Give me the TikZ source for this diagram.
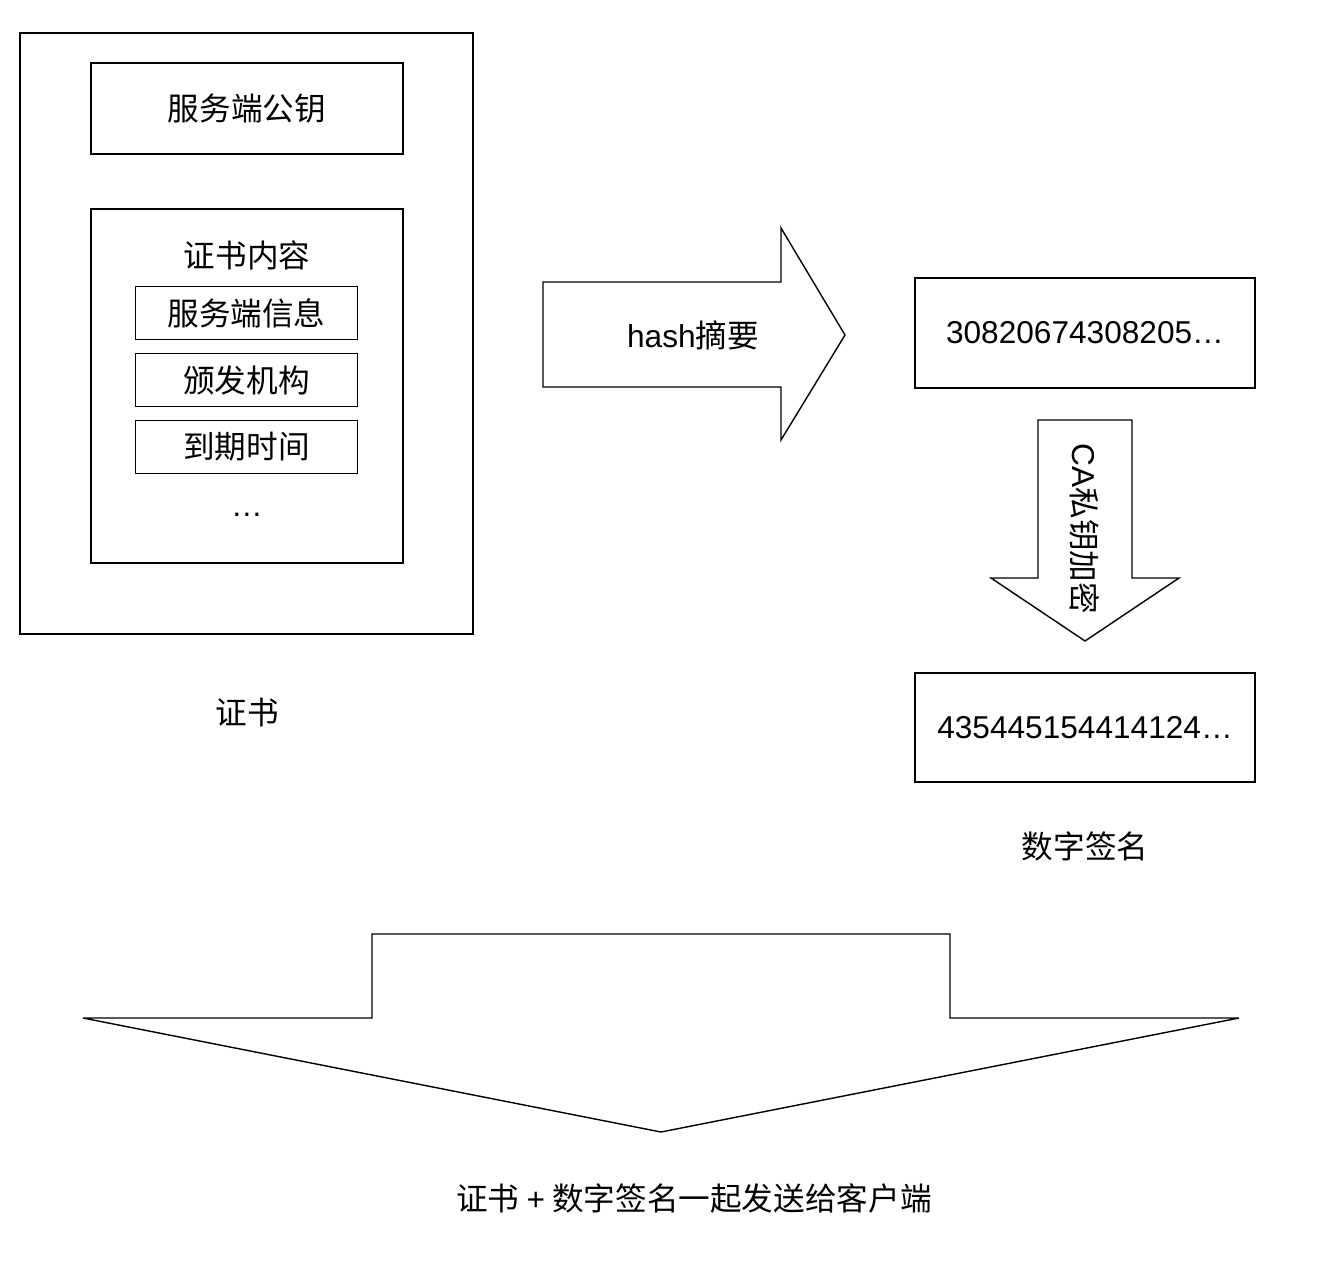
\documentclass[tikz,border=0pt]{standalone}
\usepackage{fontspec}
\setmainfont{Liberation Sans}
\newfontfamily\cjk{Noto Sans CJK SC}
\usetikzlibrary{positioning}

\begin{document}
\begin{tikzpicture}[x=0.02cm,y=-0.02cm,line width=0.8pt,node distance=0.28cm,
   box/.style={draw,rectangle,inner sep=0pt,outer sep=0pt},
   item/.style={box,minimum width=4.44cm,minimum height=1.06cm},
   txt/.style={font=\fontsize{18}{22}\selectfont\cjk},
   num/.style={font=\fontsize{18}{22}\selectfont}]
   \useasboundingbox (0,0) rectangle (1336,1268);
   % certificate
   \node[box,minimum width=9.06cm,minimum height=12.02cm] (cert) at (246.5,333.5) {};
   \node[box,txt,minimum width=6.24cm,minimum height=1.82cm] (pubkey) at (247,108.5) {服务端公钥};
   \node[box,minimum width=6.24cm,minimum height=7.08cm] (content) at (247,386) {};
   \node[txt] (contentlbl) at (247,255) {证书内容};
   \node[item,txt] (info) at (246.5,313) {服务端信息};
   \node[item,txt] (issuer) [below=of info] {颁发机构};
   \node[item,txt] (expiry) [below=of issuer] {到期时间};
   \node[num] (dots) at (247,515) {…};
   \node[txt] (certlbl) at (247,713) {证书};
   % hash arrow
   \draw (543,282) -- (781,282) -- (781,228) -- (845,335) -- (781,440) -- (781,387) -- (543,387) -- cycle;
   \node[num] (hashlbl) at (693,335) {hash{\cjk 摘要}};
   % digest and signature
   \node[box,num,minimum width=6.8cm,minimum height=2.2cm] (digest) at (1085,333) {30820674308205…};
   \node[box,num,minimum width=6.8cm,minimum height=2.18cm] (sig) at (1085,727.5) {435445154414124…};
   \node[txt] (siglbl) at (1085,846) {数字签名};
   % encrypt arrow
   \draw (1038,420) -- (1132,420) -- (1132,578) -- (1179,578) -- (1085,641) -- (991,578) -- (1038,578) -- cycle;
   \node[num,rotate=-90] (enclbl) at (1085,529) {CA{\cjk 私钥加密}};
   % send arrow
   \draw (372,934) -- (950,934) -- (950,1018) -- (1239,1018) -- (661,1132) -- (83,1018) -- (372,1018) -- cycle;
   \node[txt] (sendlbl) at (694,1198) {证书 {\rmfamily +} 数字签名一起发送给客户端};
\end{tikzpicture}
\end{document}
